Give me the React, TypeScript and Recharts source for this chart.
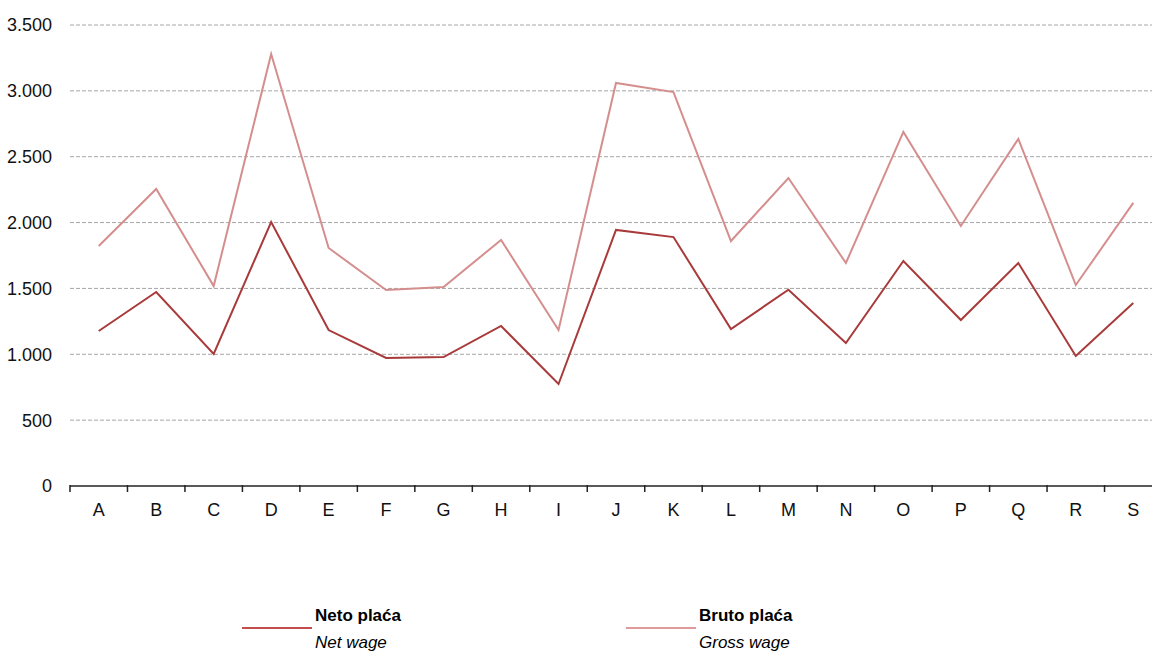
import { LineChart, Line, XAxis, YAxis, CartesianGrid } from 'recharts';

const categories = ['A', 'B', 'C', 'D', 'E', 'F', 'G', 'H', 'I', 'J', 'K', 'L', 'M', 'N', 'O', 'P', 'Q', 'R', 'S'];
const netWage = [1177, 1473, 1002, 2004, 1184, 972, 979, 1215, 774, 1944, 1890, 1192, 1490, 1086, 1708, 1260, 1693, 987, 1389];
const grossWage = [1822, 2255, 1518, 3280, 1807, 1488, 1511, 1868, 1184, 3060, 2991, 1860, 2338, 1693, 2688, 1974, 2635, 1526, 2149];
const yTicks = [0, 500, 1000, 1500, 2000, 2500, 3000, 3500];

const NET_COLOR = '#A83A3A';
const GROSS_COLOR = '#D58E8E';
const FONT = "'Liberation Sans', Arial, sans-serif";

const CHART_W = 1170;
const MARGIN = { top: 25, right: 8, left: 0, bottom: 107 };
const Y_W = 70;
const HALF_BAND = (CHART_W - MARGIN.right - MARGIN.left - Y_W) / categories.length / 2;

const chartData = categories.map((c, i) => ({ name: c, net: netWage[i], gross: grossWage[i] }));

const fmt = (v: number) => v.toLocaleString('de-DE');

// category label plus a tick mark on the band boundary to its left (and right for the last one)
function CategoryTick(props: any) {
  const { x, y, payload, index } = props;
  const last = index === categories.length - 1;
  return (
    <g>
      <line x1={x - HALF_BAND} x2={x - HALF_BAND} y1={y - 1} y2={y + 6} stroke="#222" strokeWidth={1.5} />
      {last && <line x1={x + HALF_BAND} x2={x + HALF_BAND} y1={y - 1} y2={y + 6} stroke="#222" strokeWidth={1.5} />}
      <text x={x} y={y + 30} textAnchor="middle" fill="#111" fontSize={18} fontFamily={FONT}>
        {payload.value}
      </text>
    </g>
  );
}

function LegendItem({ x, color, title, sub }: { x: number; color: string; title: string; sub: string }) {
  return (
    <div style={{ position: 'absolute', left: x, top: 606, fontFamily: FONT, color: '#000' }}>
      <div style={{ position: 'absolute', left: 0, top: 21, width: 70, height: 2, background: color }} />
      <div style={{ position: 'absolute', left: 73, top: 0, fontWeight: 700, fontSize: 17, whiteSpace: 'nowrap' }}>{title}</div>
      <div style={{ position: 'absolute', left: 73, top: 27, fontStyle: 'italic', fontSize: 17, whiteSpace: 'nowrap' }}>{sub}</div>
    </div>
  );
}

export default function App() {
  return (
    <div style={{ position: 'absolute', left: 0, top: 0, width: 1152, height: 653, overflow: 'hidden', background: '#fff' }}>
      <LineChart width={CHART_W} height={653} data={chartData} margin={MARGIN}>
        <CartesianGrid vertical={false} stroke="#A6A6A6" strokeDasharray="4 2" horizontalValues={[500, 1000, 1500, 2000, 2500, 3000, 3500]} />
        <XAxis
          dataKey="name"
          height={60}
          padding={{ left: HALF_BAND, right: HALF_BAND }}
          axisLine={{ stroke: '#222', strokeWidth: 1.5 }}
          tickLine={false}
          tickSize={0}
          tickMargin={0}
          interval={0}
          tick={<CategoryTick />}
        />
        <YAxis
          width={Y_W}
          domain={[0, 3500]}
          ticks={yTicks}
          axisLine={false}
          tickLine={false}
          tickSize={0}
          tickMargin={18}
          tickFormatter={fmt}
          tick={{ fill: '#111', fontSize: 18, fontFamily: FONT }}
        />
        <Line type="linear" dataKey="gross" stroke={GROSS_COLOR} strokeWidth={2} dot={false} isAnimationActive={false} />
        <Line type="linear" dataKey="net" stroke={NET_COLOR} strokeWidth={2} dot={false} isAnimationActive={false} />
      </LineChart>
      <LegendItem x={242} color="#C24F4C" title="Neto plaća" sub="Net wage" />
      <LegendItem x={626} color="#E09A9A" title="Bruto plaća" sub="Gross wage" />
    </div>
  );
}
